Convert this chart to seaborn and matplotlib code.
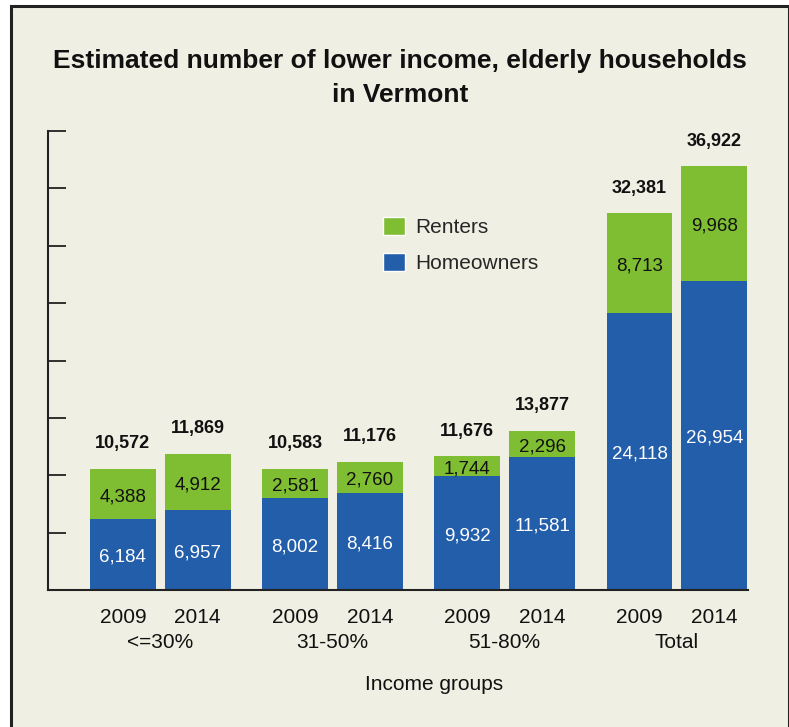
import pandas as pd
import seaborn as sns
import matplotlib.pyplot as plt
from matplotlib.patches import Patch, Rectangle

groups = ['<=30%', '31-50%', '51-80%', 'Total']
years = ['2009', '2014']
homeowners = [6184, 6957, 8002, 8416, 9932, 11581, 24118, 26954]
renters = [4388, 4912, 2581, 2760, 1744, 2296, 8713, 9968]
totals = [10572, 11869, 10583, 11176, 11676, 13877, 32381, 36922]  # as printed on the chart

green = '#7fbd32'
blue = '#235eaa'
cream = '#f0efe3'
dark = '#222222'

# two bars per group, wider gap between the groups
pos = []
for g in range(len(groups)):
    for k in range(len(years)):
        pos.append(g * 2.3 + k - 0.5)
group_centers = [g * 2.3 for g in range(len(groups))]

df = pd.DataFrame({'pos': pos, 'home': homeowners, 'rent': renters})
df['stack'] = df['home'] + df['rent']

sns.set_style('ticks')
plt.rcParams['font.family'] = ['Liberation Sans', 'DejaVu Sans']

fig = plt.figure(figsize=(7.89, 7.27), dpi=100, facecolor='white')
fig.patches.append(Rectangle((10.5 / 789, -0.05), 778 / 789, 1.05 - 6 / 727,
                             transform=fig.transFigure, facecolor=cream,
                             edgecolor=dark, linewidth=2.2, zorder=-5))
ax = fig.add_axes([48 / 789, 137 / 727, 700 / 789, 459 / 727])
ax.set_facecolor('none')

sns.barplot(data=df, x='pos', y='stack', native_scale=True, color=green,
            saturation=1, width=0.88, errorbar=None, linewidth=0, ax=ax)
sns.barplot(data=df, x='pos', y='home', native_scale=True, color=blue,
            saturation=1, width=0.88, errorbar=None, linewidth=0, ax=ax)

for i in range(len(pos)):
    ax.annotate(f'{homeowners[i]:,}', (pos[i], homeowners[i] / 2), xytext=(0, -2),
                textcoords='offset points', ha='center', va='center',
                color='white', fontsize=13.5)
    ax.annotate(f'{renters[i]:,}', (pos[i], homeowners[i] + renters[i] / 2), xytext=(0, -2),
                textcoords='offset points', ha='center', va='center',
                color='#111111', fontsize=13.5)
    ax.annotate(f'{totals[i]:,}', (pos[i], homeowners[i] + renters[i]), xytext=(0, 18),
                textcoords='offset points', ha='center', va='center',
                fontsize=13, fontweight='bold', color='#111111')

ax.set_xlim(-1.5, 7.85)
ax.set_ylim(0, 40000)
ax.set_yticks(range(0, 40001, 5000))
ax.set_yticklabels([])
ax.tick_params(axis='y', direction='in', length=13, width=1.3, color=dark)
ax.set_xticks(pos)
ax.set_xticklabels(years * len(groups), fontsize=15, color='#111111')
ax.tick_params(axis='x', length=0, pad=13)
ax.set_xlabel('')
ax.set_ylabel('')
sns.despine(ax=ax)
for s in ['left', 'bottom']:
    ax.spines[s].set_color(dark)
    ax.spines[s].set_linewidth(1.5)

for gc, name in zip(group_centers, groups):
    ax.annotate(name, (gc, 0), xycoords=('data', 'axes fraction'), xytext=(0, -37.5),
                textcoords='offset points', ha='center', va='center',
                fontsize=15, color='#111111')

fig.text(434 / 789, 1 - 684 / 727, 'Income groups', ha='center', va='center',
         fontsize=15, color='#111111')
fig.text(400 / 789, 1 - 78 / 727,
         'Estimated number of lower income, elderly households\nin Vermont',
         ha='center', va='center', fontsize=19, fontweight='bold', linespacing=1.5,
         color='#111111')

handles = [Patch(facecolor=green), Patch(facecolor=blue)]
ax.legend(handles, ['Renters', 'Homeowners'], loc='upper left',
          bbox_to_anchor=(383 / 789, 1 - 217 / 727), bbox_transform=fig.transFigure,
          frameon=False, fontsize=15, handlelength=1.06, handleheight=0.96,
          handletextpad=0.5, labelspacing=0.75, borderpad=0, borderaxespad=0)

fig.savefig('out.png', dpi=100)
